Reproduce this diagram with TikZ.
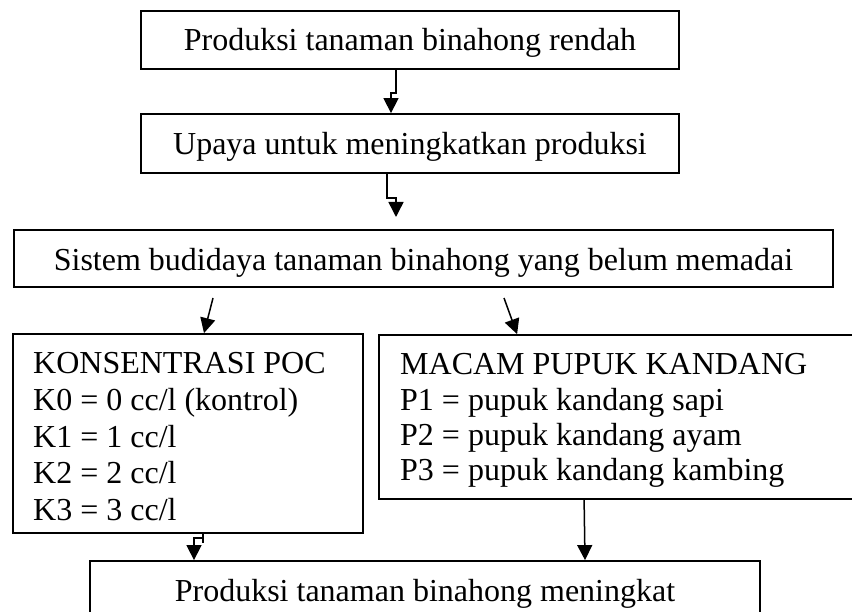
\documentclass[tikz,border=0pt]{standalone}
\usepackage{fontspec}
\setmainfont{Liberation Serif}
\usetikzlibrary{arrows.meta, positioning}

\begin{document}
\begin{tikzpicture}[x=1pt, y=-1pt,
    box/.style={draw, line width=1.8pt, inner sep=0pt, text height=22pt, text depth=0pt,
        font=\fontsize{32}{36}\selectfont},
    item/.style={anchor=base west, inner sep=0pt, font=\fontsize{32}{36}\selectfont},
    flow/.style={line width=1.5pt, -{Triangle[length=15pt, width=15pt]}}]
    \useasboundingbox (0,0) rectangle (852,612);

    \node[box, minimum width=538pt, minimum height=58pt] (rendah) at (410,40) {Produksi tanaman binahong rendah};
    \node[box, minimum width=538pt, minimum height=59pt] (upaya) at (410,143.5) {Upaya untuk meningkatkan produksi};
    \node[box, minimum width=819pt, minimum height=57pt, text height=24pt] (sistem) at (423.5,258.5) {Sistem budidaya tanaman binahong yang belum memadai};

    \node[box, minimum width=350pt, minimum height=199pt] (pocBox) at (188,433.5) {};
    \node[box, minimum width=491pt, minimum height=164pt] (pupukBox) at (624.5,417) {};
    \node[box, minimum width=670pt, minimum height=58pt] (hasil) at (425,590) {Produksi tanaman binahong meningkat};

    \foreach \entry [count=\i] in {KONSENTRASI POC, {K0 = 0 cc/l (kontrol)}, {K1 = 1 cc/l}, {K2 = 2 cc/l}, {K3 = 3 cc/l}}
        \node[item] (poc\i) at (33,{374+36.5*(\i-1)}) {\entry};

    \begin{scope}
        \clip (379,334) rectangle (852,486);
        \foreach \entry [count=\i] in {MACAM PUPUK KANDANG, {P1 = pupuk kandang sapi}, {P2 = pupuk kandang ayam}, {P3 = pupuk kandang kambing}}
            \node[item] (pupuk\i) at (400,{375+35.3*(\i-1)}) {\entry};
    \end{scope}

    \coordinate (gapTip) at (396,217);
    \coordinate (splitL) at (213,298);
    \coordinate (splitR) at (504,298);

    \draw[flow] ([xshift=-14pt]rendah.south) -- ++(0,23) -- ++(-5,0) -- ([xshift=-19pt]upaya.north);
    \draw[flow] ([xshift=-23pt]upaya.south) -- ++(0,24) -| (gapTip);
    \draw[flow] (splitL) -- ([xshift=16pt]pocBox.north);
    \draw[flow] (splitR) -- ([xshift=139pt]pupukBox.north west);
    \draw[flow] ([xshift=15pt]pocBox.south) -- ++(0,9) ++(0,-5) -- ++(-9,0) -- ([xshift=-231pt]hasil.north);
    \draw[flow] ([xshift=206pt]pupukBox.south west) -- ([xshift=160pt]hasil.north);
\end{tikzpicture}
\end{document}
